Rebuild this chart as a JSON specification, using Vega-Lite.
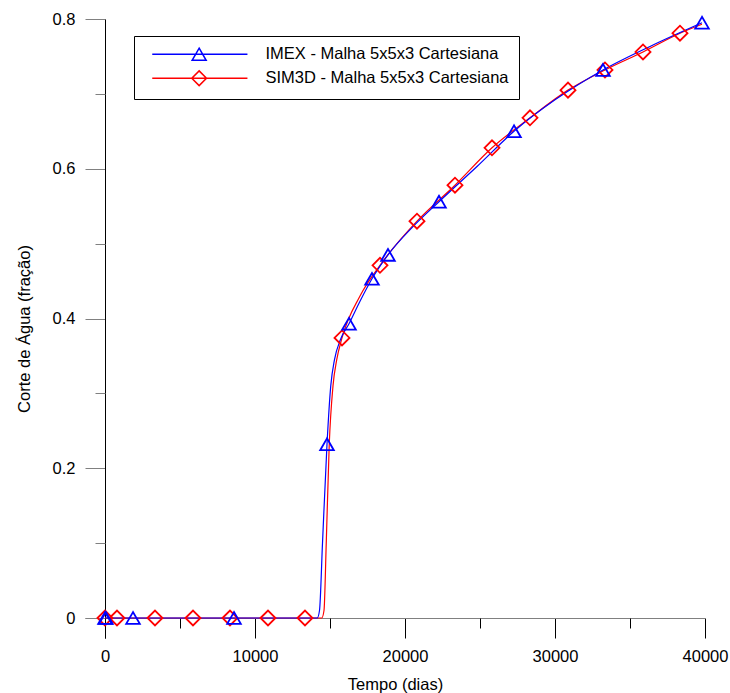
{
  "$schema": "https://vega.github.io/schema/vega-lite/v6.json",
  "width": 620,
  "height": 619,
  "autosize": {"type": "none"},
  "padding": {"left": 85, "top": 19, "right": 25, "bottom": 55},
  "background": "white",
  "config": {
    "view": {"stroke": null},
    "font": "Liberation Sans",
    "axis": {
      "grid": false,
      "labelFont": "Liberation Sans",
      "titleFont": "Liberation Sans",
      "labelFontSize": 16.5,
      "titleFontSize": 16.5,
      "titleFontWeight": "normal",
      "labelColor": "black",
      "titleColor": "black",
      "labelFlush": false
    }
  },
  "datasets": {
    "lines": [
      {"series": "IMEX - Malha 5x5x3 Cartesiana", "t": 0, "wc": 0},
      {"series": "IMEX - Malha 5x5x3 Cartesiana", "t": 14150, "wc": 0},
      {"series": "IMEX - Malha 5x5x3 Cartesiana", "t": 14300, "wc": 0.01},
      {"series": "IMEX - Malha 5x5x3 Cartesiana", "t": 14500, "wc": 0.1},
      {"series": "IMEX - Malha 5x5x3 Cartesiana", "t": 14800, "wc": 0.232},
      {"series": "IMEX - Malha 5x5x3 Cartesiana", "t": 15050, "wc": 0.31},
      {"series": "IMEX - Malha 5x5x3 Cartesiana", "t": 15300, "wc": 0.345},
      {"series": "IMEX - Malha 5x5x3 Cartesiana", "t": 15700, "wc": 0.372},
      {"series": "IMEX - Malha 5x5x3 Cartesiana", "t": 16267, "wc": 0.393},
      {"series": "IMEX - Malha 5x5x3 Cartesiana", "t": 17000, "wc": 0.423},
      {"series": "IMEX - Malha 5x5x3 Cartesiana", "t": 17800, "wc": 0.453},
      {"series": "IMEX - Malha 5x5x3 Cartesiana", "t": 18867, "wc": 0.485},
      {"series": "IMEX - Malha 5x5x3 Cartesiana", "t": 20500, "wc": 0.522},
      {"series": "IMEX - Malha 5x5x3 Cartesiana", "t": 22267, "wc": 0.556},
      {"series": "IMEX - Malha 5x5x3 Cartesiana", "t": 24800, "wc": 0.603},
      {"series": "IMEX - Malha 5x5x3 Cartesiana", "t": 27267, "wc": 0.65},
      {"series": "IMEX - Malha 5x5x3 Cartesiana", "t": 30000, "wc": 0.692},
      {"series": "IMEX - Malha 5x5x3 Cartesiana", "t": 33200, "wc": 0.732},
      {"series": "IMEX - Malha 5x5x3 Cartesiana", "t": 36500, "wc": 0.765},
      {"series": "IMEX - Malha 5x5x3 Cartesiana", "t": 39800, "wc": 0.795},
      {"series": "SIM3D - Malha 5x5x3 Cartesiana", "t": 0, "wc": 0},
      {"series": "SIM3D - Malha 5x5x3 Cartesiana", "t": 14450, "wc": 0},
      {"series": "SIM3D - Malha 5x5x3 Cartesiana", "t": 14600, "wc": 0.01},
      {"series": "SIM3D - Malha 5x5x3 Cartesiana", "t": 14750, "wc": 0.1},
      {"series": "SIM3D - Malha 5x5x3 Cartesiana", "t": 14950, "wc": 0.232},
      {"series": "SIM3D - Malha 5x5x3 Cartesiana", "t": 15200, "wc": 0.31},
      {"series": "SIM3D - Malha 5x5x3 Cartesiana", "t": 15450, "wc": 0.345},
      {"series": "SIM3D - Malha 5x5x3 Cartesiana", "t": 15800, "wc": 0.374},
      {"series": "SIM3D - Malha 5x5x3 Cartesiana", "t": 17000, "wc": 0.43},
      {"series": "SIM3D - Malha 5x5x3 Cartesiana", "t": 18333, "wc": 0.471},
      {"series": "SIM3D - Malha 5x5x3 Cartesiana", "t": 20800, "wc": 0.53},
      {"series": "SIM3D - Malha 5x5x3 Cartesiana", "t": 23333, "wc": 0.578},
      {"series": "SIM3D - Malha 5x5x3 Cartesiana", "t": 25800, "wc": 0.628},
      {"series": "SIM3D - Malha 5x5x3 Cartesiana", "t": 28333, "wc": 0.668},
      {"series": "SIM3D - Malha 5x5x3 Cartesiana", "t": 30867, "wc": 0.705},
      {"series": "SIM3D - Malha 5x5x3 Cartesiana", "t": 33333, "wc": 0.732},
      {"series": "SIM3D - Malha 5x5x3 Cartesiana", "t": 35867, "wc": 0.756},
      {"series": "SIM3D - Malha 5x5x3 Cartesiana", "t": 38333, "wc": 0.781},
      {"series": "SIM3D - Malha 5x5x3 Cartesiana", "t": 39800, "wc": 0.793}
    ],
    "markers": [
      {"series": "IMEX - Malha 5x5x3 Cartesiana", "t": 0, "wc": 0},
      {"series": "IMEX - Malha 5x5x3 Cartesiana", "t": 60, "wc": 0},
      {"series": "IMEX - Malha 5x5x3 Cartesiana", "t": 1867, "wc": 0},
      {"series": "IMEX - Malha 5x5x3 Cartesiana", "t": 8600, "wc": 0},
      {"series": "IMEX - Malha 5x5x3 Cartesiana", "t": 14800, "wc": 0.232},
      {"series": "IMEX - Malha 5x5x3 Cartesiana", "t": 16267, "wc": 0.393},
      {"series": "IMEX - Malha 5x5x3 Cartesiana", "t": 17800, "wc": 0.453},
      {"series": "IMEX - Malha 5x5x3 Cartesiana", "t": 18867, "wc": 0.485},
      {"series": "IMEX - Malha 5x5x3 Cartesiana", "t": 22267, "wc": 0.556},
      {"series": "IMEX - Malha 5x5x3 Cartesiana", "t": 27267, "wc": 0.65},
      {"series": "IMEX - Malha 5x5x3 Cartesiana", "t": 33200, "wc": 0.732},
      {"series": "IMEX - Malha 5x5x3 Cartesiana", "t": 39800, "wc": 0.795},
      {"series": "SIM3D - Malha 5x5x3 Cartesiana", "t": 0, "wc": 0},
      {"series": "SIM3D - Malha 5x5x3 Cartesiana", "t": 800, "wc": 0},
      {"series": "SIM3D - Malha 5x5x3 Cartesiana", "t": 3333, "wc": 0},
      {"series": "SIM3D - Malha 5x5x3 Cartesiana", "t": 5867, "wc": 0},
      {"series": "SIM3D - Malha 5x5x3 Cartesiana", "t": 8333, "wc": 0},
      {"series": "SIM3D - Malha 5x5x3 Cartesiana", "t": 10867, "wc": 0},
      {"series": "SIM3D - Malha 5x5x3 Cartesiana", "t": 13333, "wc": 0},
      {"series": "SIM3D - Malha 5x5x3 Cartesiana", "t": 15800, "wc": 0.374},
      {"series": "SIM3D - Malha 5x5x3 Cartesiana", "t": 18333, "wc": 0.471},
      {"series": "SIM3D - Malha 5x5x3 Cartesiana", "t": 20800, "wc": 0.53},
      {"series": "SIM3D - Malha 5x5x3 Cartesiana", "t": 23333, "wc": 0.578},
      {"series": "SIM3D - Malha 5x5x3 Cartesiana", "t": 25800, "wc": 0.628},
      {"series": "SIM3D - Malha 5x5x3 Cartesiana", "t": 28333, "wc": 0.668},
      {"series": "SIM3D - Malha 5x5x3 Cartesiana", "t": 30867, "wc": 0.705},
      {"series": "SIM3D - Malha 5x5x3 Cartesiana", "t": 33333, "wc": 0.732},
      {"series": "SIM3D - Malha 5x5x3 Cartesiana", "t": 35867, "wc": 0.756},
      {"series": "SIM3D - Malha 5x5x3 Cartesiana", "t": 38333, "wc": 0.781}
    ]
  },
  "resolve": {"axis": {"x": "independent", "y": "independent"}},
  "layer": [
    {
      "data": {"name": "lines"},
      "transform": [{"filter": "datum.series === 'SIM3D - Malha 5x5x3 Cartesiana'"}],
      "mark": {"type": "line", "interpolate": "monotone", "strokeWidth": 1.2},
      "encoding": {
        "x": {"field": "t", "type": "quantitative",
          "scale": {"domain": [-1333.33, 40000], "nice": false, "zero": false},
          "axis": {"orient": "bottom", "offset": -20, "values": [0, 10000, 20000, 30000, 40000], "format": "d",
            "tickSize": 20, "tickColor": "black", "domainColor": "#808080", "labelPadding": 10, "labelFlush": false,
            "title": "Tempo (dias)", "titlePadding": 12}},
        "y": {"field": "wc", "type": "quantitative",
          "scale": {"domain": [-0.026711, 0.8], "nice": false, "zero": false},
          "axis": {"orient": "left", "offset": -20, "values": [0, 0.2, 0.4, 0.6, 0.8], "format": "~g",
            "tickSize": 20, "tickColor": "#808080", "domainColor": "black", "labelPadding": 10,
            "title": "Corte de Água (fração)", "titlePadding": 20}},
        "color": {"field": "series", "type": "nominal",
          "scale": {"domain": ["IMEX - Malha 5x5x3 Cartesiana", "SIM3D - Malha 5x5x3 Cartesiana"], "range": ["#0000ff", "#ff0000"]}}
      }
    },
    {
      "data": {"name": "lines"},
      "transform": [{"filter": "datum.series === 'IMEX - Malha 5x5x3 Cartesiana'"}],
      "mark": {"type": "line", "interpolate": "monotone", "strokeWidth": 1.2},
      "encoding": {
        "x": {"field": "t", "type": "quantitative",
          "scale": {"domain": [-1333.33, 40000], "nice": false, "zero": false},
          "axis": {"orient": "bottom", "offset": -20, "values": [5000, 15000, 25000, 35000],
            "tickSize": 10, "tickColor": "black", "domain": false, "labels": false, "title": null}},
        "y": {"field": "wc", "type": "quantitative",
          "scale": {"domain": [-0.026711, 0.8], "nice": false, "zero": false},
          "axis": {"orient": "left", "offset": -20, "values": [0.1, 0.3, 0.5, 0.7],
            "tickSize": 10, "tickColor": "#808080", "domain": false, "labels": false, "title": null}},
        "color": {"field": "series", "type": "nominal"}
      }
    },
    {
      "data": {"name": "markers"},
      "transform": [{"filter": "datum.series === 'SIM3D - Malha 5x5x3 Cartesiana'"}],
      "mark": {"type": "point", "shape": "diamond", "size": 225, "filled": false, "strokeWidth": 1.8, "opacity": 1},
      "encoding": {
        "x": {"field": "t", "type": "quantitative", "scale": {"domain": [-1333.33, 40000], "nice": false, "zero": false}, "axis": null},
        "y": {"field": "wc", "type": "quantitative", "scale": {"domain": [-0.026711, 0.8], "nice": false, "zero": false}, "axis": null},
        "color": {"field": "series", "type": "nominal"}
      }
    },
    {
      "data": {"name": "markers"},
      "transform": [{"filter": "datum.series === 'IMEX - Malha 5x5x3 Cartesiana'"}],
      "mark": {"type": "point", "shape": "triangle-up", "size": 185, "filled": false, "strokeWidth": 1.8, "opacity": 1},
      "encoding": {
        "x": {"field": "t", "type": "quantitative", "scale": {"domain": [-1333.33, 40000], "nice": false, "zero": false}, "axis": null},
        "y": {"field": "wc", "type": "quantitative", "scale": {"domain": [-0.026711, 0.8], "nice": false, "zero": false}, "axis": null},
        "color": {"field": "series", "type": "nominal"}
      }
    },
    {
      "data": {"name": "markers"},
      "transform": [{"filter": "false"}],
      "mark": {"type": "point", "filled": false, "strokeWidth": 1.5, "opacity": 1},
      "encoding": {
        "x": {"field": "t", "type": "quantitative", "scale": {"domain": [-1333.33, 40000], "nice": false, "zero": false}, "axis": null},
        "y": {"field": "wc", "type": "quantitative", "scale": {"domain": [-0.026711, 0.8], "nice": false, "zero": false}, "axis": null},
        "color": {"field": "series", "type": "nominal",
          "legend": {"orient": "none", "legendX": 49, "legendY": 17, "title": null, "padding": 10,
            "strokeColor": "black", "fillColor": "white", "labelFont": "Liberation Sans", "labelFontSize": 16.5,
            "labelColor": "black", "labelOffset": 105, "symbolSize": 196, "symbolStrokeWidth": 1.5, "symbolFillColor": "transparent", "symbolOpacity": 1, "rowPadding": 3, "labelLimit": 400}},
        "shape": {"field": "series", "type": "nominal",
          "scale": {"domain": ["IMEX - Malha 5x5x3 Cartesiana", "SIM3D - Malha 5x5x3 Cartesiana"],
            "range": ["M0,0H13.6M6.7,-0.86L7.7,0.86L5.7,0.86Z", "M0,0H13.6M6.7,-1.05L7.75,0L6.7,1.05L5.65,0Z"]},
          "legend": {"orient": "none", "legendX": 49, "legendY": 17, "title": null, "padding": 10,
            "strokeColor": "black", "fillColor": "white", "labelFont": "Liberation Sans", "labelFontSize": 16.5,
            "labelColor": "black", "labelOffset": 105, "symbolSize": 196, "symbolStrokeWidth": 1.5, "symbolFillColor": "transparent", "symbolOpacity": 1, "rowPadding": 3, "labelLimit": 400}}
      }
    }
  ]
}
